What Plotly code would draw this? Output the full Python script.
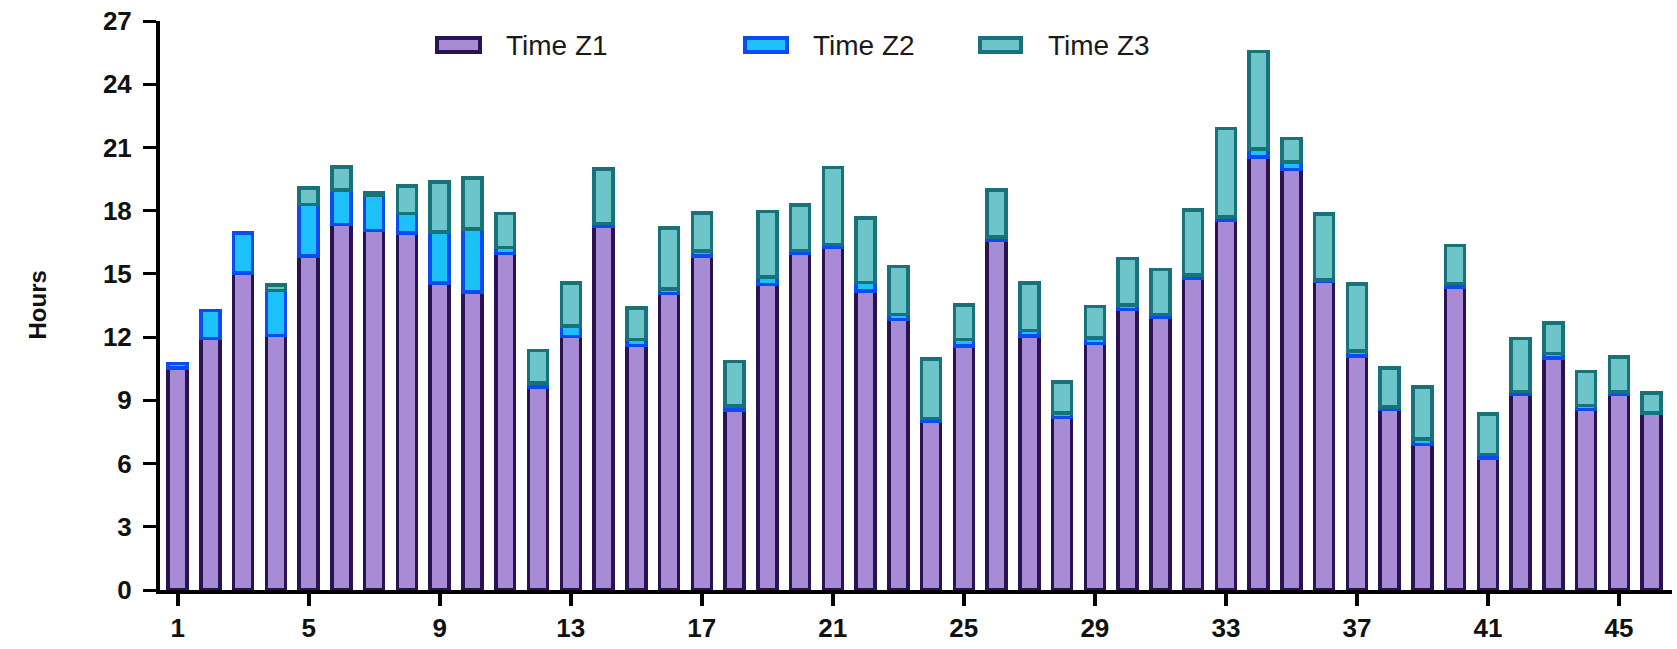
import plotly.graph_objects as go

# Stacked daily time spent in each zone (hours)
days = list(range(1, 47))

time_z1 = [10.54, 11.93, 15.05, 12.07, 15.84, 17.34, 17.06, 16.95, 14.57, 14.15,
           15.97, 9.64, 12.04, 17.26, 11.60, 14.07, 15.84, 8.53, 14.49, 15.97,
           16.28, 14.18, 12.83, 8.00, 11.58, 16.59, 12.06, 8.18, 11.69, 13.31,
           12.96, 14.77, 17.54, 20.55, 19.95, 14.65, 11.10, 8.56, 6.90, 14.38,
           6.27, 9.27, 11.01, 8.56, 9.27, 8.40]
time_z2 = [0.20, 1.33, 1.90, 2.15, 2.45, 1.63, 1.66, 0.91, 2.41, 2.99,
           0.29, 0.19, 0.48, 0.13, 0.28, 0.22, 0.24, 0.19, 0.37, 0.14,
           0.11, 0.42, 0.24, 0.15, 0.31, 0.17, 0.25, 0.21, 0.27, 0.22,
           0.12, 0.18, 0.17, 0.38, 0.35, 0.05, 0.25, 0.13, 0.27, 0.16,
           0.16, 0.16, 0.21, 0.19, 0.13, None]
time_z3 = [None, None, None, 0.26, 0.79, 1.11, 0.13, 1.30, 2.39, 2.40,
           1.60, 1.53, 2.05, 2.59, 1.49, 2.88, 1.82, 2.12, 3.10, 2.15,
           3.67, 3.06, 2.29, 2.82, 1.64, 2.21, 2.26, 1.47, 1.49, 2.19,
           2.13, 3.09, 4.19, 4.62, 1.12, 3.15, 3.18, 1.85, 2.47, 1.81,
           1.93, 2.50, 1.46, 1.63, 1.65, 0.95]

series_names = ["Time Z1", "Time Z2", "Time Z3"]
x_ticks = [1, 5, 9, 13, 17, 21, 25, 29, 33, 37, 41, 45]
y_ticks = [0, 3, 6, 9, 12, 15, 18, 21, 24, 27]

fills = ["#A78BD5", "#1CC1F7", "#6DC5C9"]
edges = ["#2A1352", "#0B4CF2", "#177279"]

FONT = "Liberation Sans, Arial"
W, H = 1677, 649
L, R, T, B = 160, 5, 21, 59
plot_w, plot_h = W - L - R, H - T - B

fig = go.Figure()
for name, vals, fc, ec in zip(series_names, [time_z1, time_z2, time_z3], fills, edges):
    fig.add_trace(go.Bar(
        x=days, y=vals, name=name, width=0.58,
        marker=dict(color=fc, line=dict(color=ec, width=3.5)),
        showlegend=False,
    ))

# Legend drawn as wide swatches with labels above the bars
def px_x(p):
    return (p - L) / plot_w

def px_y(p):
    return (H - B - p) / plot_h

legend_items = [(437, 480, 504), (745, 787, 811), (980, 1021, 1046)]
for (x0, x1, tx), name, fc, ec in zip(legend_items, series_names, fills, edges):
    fig.add_shape(type="rect", xref="paper", yref="paper",
                  x0=px_x(x0), x1=px_x(x1), y0=px_y(52), y1=px_y(38),
                  fillcolor=fc, line=dict(color=ec, width=4))
    fig.add_annotation(xref="paper", yref="paper", x=px_x(tx), y=px_y(45),
                       text=name, showarrow=False, xanchor="left", yanchor="middle",
                       font=dict(family=FONT, size=28, color="#1a1a1a"))

fig.add_annotation(xref="paper", yref="paper", x=px_x(37), y=0.5,
                   text="Hours", textangle=-90, showarrow=False,
                   xanchor="center", yanchor="middle",
                   font=dict(family=FONT, size=24, color="#111", weight="bold"))

tick_font = dict(family=FONT, size=26, color="#111", weight="bold")
fig.update_layout(
    width=W, height=H,
    margin=dict(l=L, r=R, t=T, b=B, pad=0),
    barmode="stack",
    plot_bgcolor="white", paper_bgcolor="white",
    xaxis=dict(range=[0.46, 46.62], tickvals=x_ticks, ticks="outside", ticklen=12,
               tickwidth=4, tickcolor="black", showline=True, linecolor="black",
               linewidth=4, showgrid=False, zeroline=False, tickfont=tick_font),
    yaxis=dict(range=[0, 27], tickvals=y_ticks, ticks="outside", ticklen=13,
               tickwidth=3, tickcolor="black", showline=True, linecolor="black",
               linewidth=4, showgrid=False, zeroline=False, tickfont=tick_font,
               ticklabelstandoff=6),
)

fig.write_html("out.html")
